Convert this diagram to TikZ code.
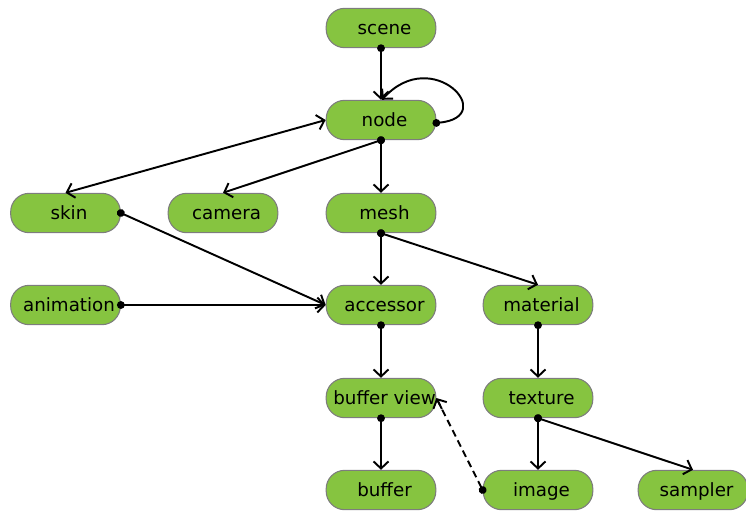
\documentclass[tikz,border=0pt]{standalone}
\usepackage{fontspec}
\setmainfont{DejaVu Sans}
\usetikzlibrary{arrows.meta,calc}
\definecolor{boxgreen}{RGB}{134,196,64}
\definecolor{boxedge}{RGB}{125,125,125}
\tikzset{
  box/.style={draw=boxedge, line width=0.6pt, fill=boxgreen, rounded corners=10.5pt,
    minimum width=62.4pt, minimum height=22.4pt, inner sep=0pt,
    text height=9pt, text depth=1.2pt,
    font=\fontsize{10.4}{12}\selectfont, text=black},
  link/.style={line width=1.1pt, {Circle[length=4.4pt]}-{Straight Barb[length=4pt,width=8.5pt]}, shorten <=-2.2pt},
  twoway/.style={line width=1.1pt, {Straight Barb[length=4pt,width=8.5pt]}-{Straight Barb[length=4pt,width=8.5pt]}},
  weak/.style={line width=1.1pt, {Circle[length=4.4pt]}-, shorten <=-2.2pt, dash pattern=on 4pt off 2.5pt},
  weaktip/.style={line width=1.1pt, -{Straight Barb[length=4pt,width=8.5pt]}},
}
\begin{document}
\begin{tikzpicture}[x=0.02cm, y=-0.02cm]
\useasboundingbox (0,0) rectangle (746,511);
% nodes of the glTF object graph
\node[box] (scene)      at (381,28)  {\hspace*{4pt}scene};
\node[box] (node)       at (381,120) {\hspace*{4pt}node};
\node[box] (skin)       at (65.5,213) {\hspace*{4pt}skin};
\node[box] (camera)     at (223,213) {\hspace*{4pt}camera};
\node[box] (mesh)       at (381,213) {\hspace*{4pt}mesh};
\node[box] (animation)  at (65.5,305) {\hspace*{4pt}animation};
\node[box] (accessor)   at (381,305) {\hspace*{4pt}accessor};
\node[box] (material)   at (538,305) {\hspace*{4pt}material};
\node[box] (bufferview) at (381,398) {\hspace*{4pt}buffer view};
\node[box] (texture)    at (538,398) {\hspace*{4pt}texture};
\node[box] (buffer)     at (381,490) {\hspace*{4pt}buffer};
\node[box] (image)      at (538,490) {\hspace*{4pt}image};
\node[box] (sampler)    at (693,490) {\hspace*{4pt}sampler};
% references between objects
\draw[link] (scene.south) -- (node.north);
\draw[link] (node.-3) .. controls (500,117) and (432,44) .. (node.87);
\draw[twoway] (skin.north) -- (node.west);
\draw[link] (node.south) -- (camera.north);
\draw[link] (node.south) -- (mesh.north);
\draw[link] (skin.east) -- (accessor.west);
\draw[link] (animation.east) -- (accessor.west);
\draw[link] (mesh.south) -- (accessor.north);
\draw[link] (mesh.south) -- (material.north);
\draw[link] (accessor.south) -- (bufferview.north);
\draw[link] (material.south) -- (texture.north);
\draw[link] (bufferview.south) -- (buffer.north);
% dashed reference, with a solid tip drawn on its last stretch
\draw[weak] (image.west) -- (bufferview.east);
\draw[weaktip] ($(bufferview.east)!7pt!(image.west)$) -- (bufferview.east);
\draw[link] (texture.south) -- (image.north);
\draw[link] (texture.south) -- (sampler.north);
\end{tikzpicture}
\end{document}
